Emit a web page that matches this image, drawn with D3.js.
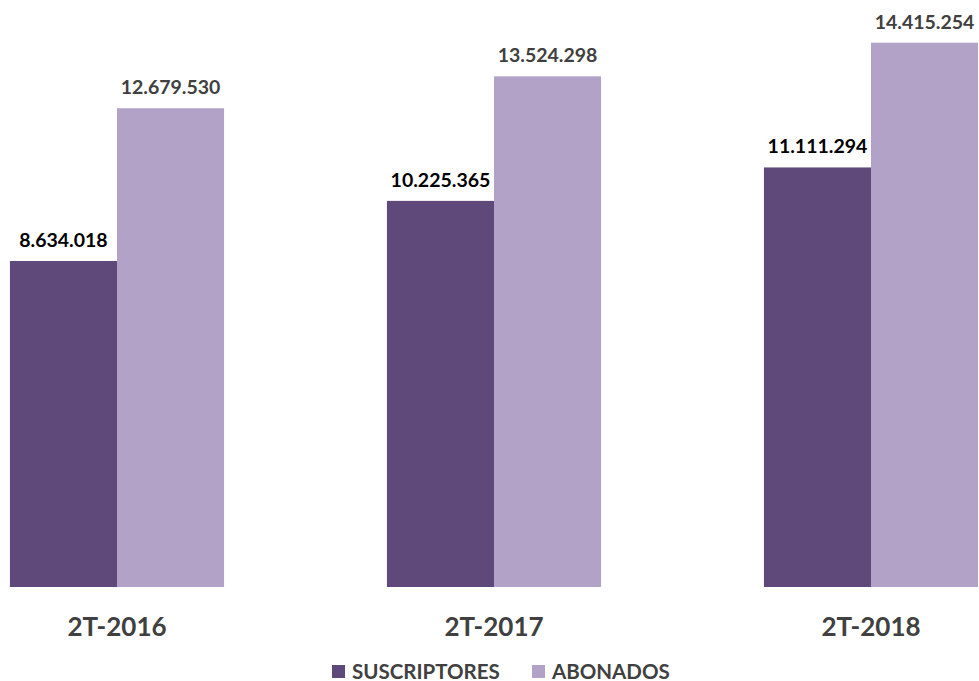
<!DOCTYPE html>
<html>
<head>
<meta charset="utf-8">
<script src="https://cdn.jsdelivr.net/npm/d3@7"></script>
<style>
  html, body { margin: 0; padding: 0; background: #fff; }
  svg { display: block; font-family: Lato, "Open Sans", sans-serif; }
</style>
</head>
<body>
<svg id="chart" width="979" height="681"></svg>
<script>
const periods = ['2T-2016', '2T-2017', '2T-2018'];
const seriesNames = ['SUSCRIPTORES', 'ABONADOS'];
const suscriptores = [8634018, 10225365, 11111294];
const abonados = [12679530, 13524298, 14415254];

const colors = ['#5f497a', '#b3a2c7'];
const labelColors = ['#000000', '#404040'];

const svg = d3.select('#chart');

const baseline = 587;

const x0 = d3.scaleBand()
  .domain(periods)
  .range([-71.5, 1059.5])
  .paddingInner(0.432)
  .paddingOuter(0.216);

const x1 = d3.scaleBand()
  .domain(seriesNames)
  .range([0, x0.bandwidth()]);

const y = d3.scaleLinear()
  .domain([0, 16000000])
  .range([baseline, baseline - 16 * 37.76]);

const fmt = v => d3.format(',')(v).replace(/,/g, '.');

const rows = periods.map((p, i) => ({
  period: p,
  values: [suscriptores[i], abonados[i]]
}));

const groups = svg.append('g')
  .attr('id', 'bars')
  .selectAll('g')
  .data(rows)
  .enter()
  .append('g')
  .attr('transform', d => `translate(${x0(d.period)},0)`);

groups.selectAll('rect')
  .data(d => d.values.map((v, j) => ({ name: seriesNames[j], value: v, j })))
  .enter()
  .append('rect')
  .attr('x', d => x1(d.name))
  .attr('y', d => y(d.value))
  .attr('width', x1.bandwidth())
  .attr('height', d => baseline - y(d.value))
  .attr('fill', d => colors[d.j]);

groups.selectAll('text')
  .data(d => d.values.map((v, j) => ({ name: seriesNames[j], value: v, j })))
  .enter()
  .append('text')
  .attr('x', d => x1(d.name) + x1.bandwidth() / 2)
  .attr('y', d => y(d.value) - 14)
  .attr('text-anchor', 'middle')
  .attr('fill', d => labelColors[d.j])
  .style('font-size', '19.5px')
  .style('font-weight', 'bold')
  .text(d => fmt(d.value));

// category labels
svg.append('g')
  .attr('id', 'xAxis')
  .selectAll('text')
  .data(periods)
  .enter()
  .append('text')
  .attr('x', d => x0(d) + x0.bandwidth() / 2)
  .attr('y', 636)
  .attr('text-anchor', 'middle')
  .attr('fill', '#404040')
  .style('font-size', '26px')
  .style('font-weight', 'bold')
  .text(d => d);

// legend
const legendPos = [332, 532];
const legend = svg.append('g').attr('id', 'legend');
const items = legend.selectAll('g')
  .data(seriesNames)
  .enter()
  .append('g')
  .attr('transform', (d, i) => `translate(${legendPos[i]},0)`);

items.append('rect')
  .attr('x', 0)
  .attr('y', 665)
  .attr('width', 13)
  .attr('height', 13)
  .attr('fill', (d, i) => colors[i]);

items.append('text')
  .attr('x', 20)
  .attr('y', 678.5)
  .attr('fill', '#404040')
  .style('font-size', '20.5px')
  .style('font-weight', 'bold')
  .text(d => d);
</script>
</body>
</html>
